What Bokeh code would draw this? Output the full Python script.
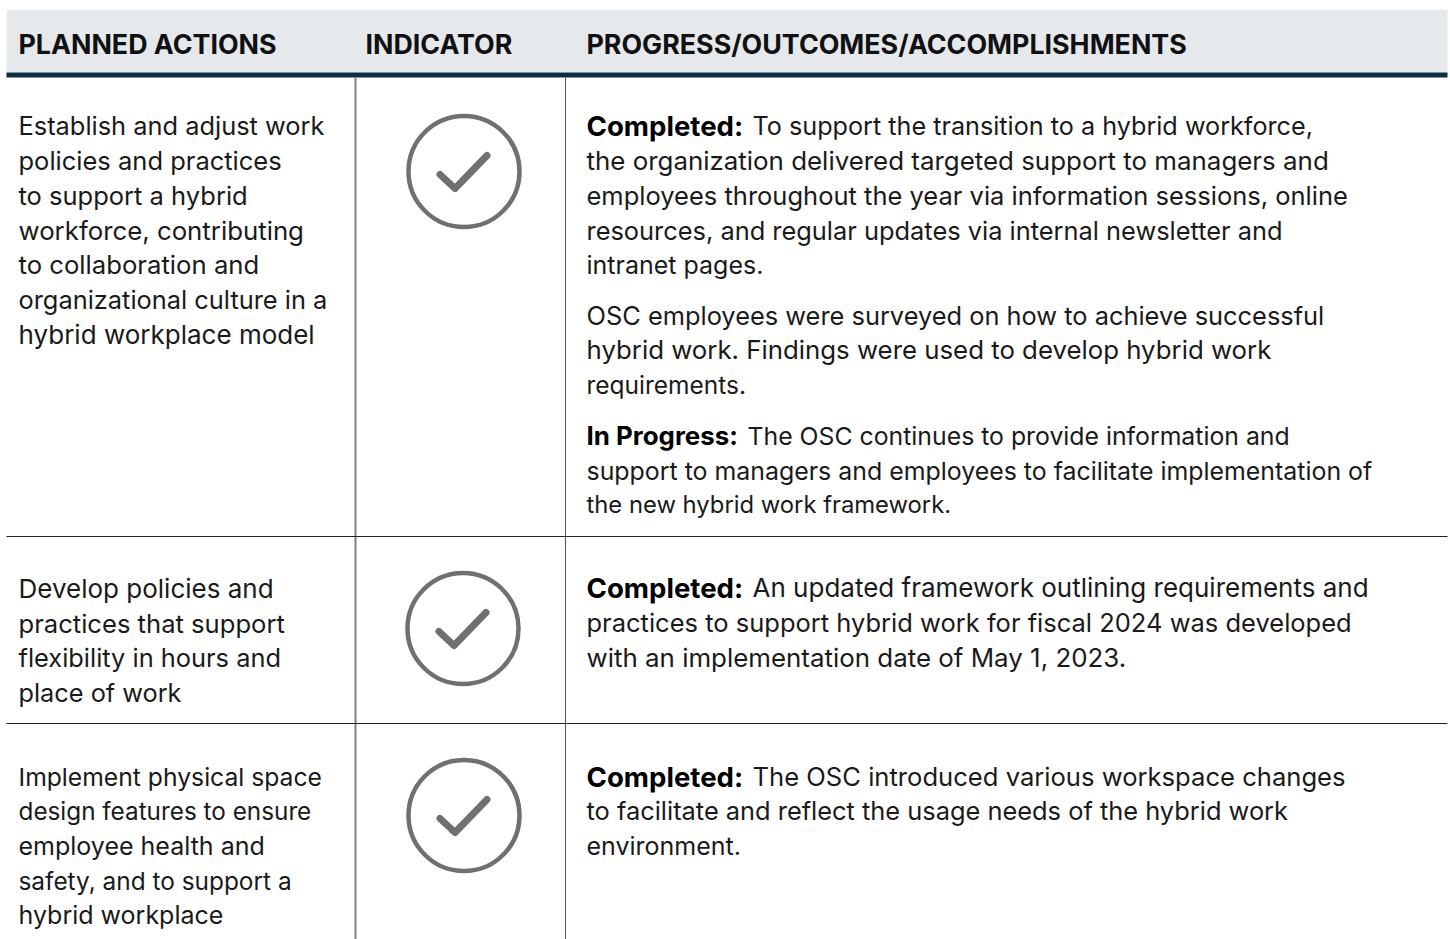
from bokeh.plotting import figure
from bokeh.embed import file_html
from bokeh.resources import INLINE
from bokeh.core.properties import value
from bokeh.models import Range1d

FONT = "Inter"
HFONT = "Inter"
HEAD = 26.8

headers = [("PLANNED ACTIONS", 18), ("INDICATOR", 365), ("PROGRESS/OUTCOMES/ACCOMPLISHMENTS", 586)]

left_lines = [
    ("Establish and adjust work", 125), ("policies and practices", 160), ("to support a hybrid", 195),
    ("workforce, contributing", 230), ("to collaboration and", 264), ("organizational culture in a", 299),
    ("hybrid workplace model", 334),
    ("Develop policies and", 588), ("practices that support", 623), ("flexibility in hours and", 657),
    ("place of work", 692),
    ("Implement physical space", 776), ("design features to ensure", 810), ("employee health and", 845),
    ("safety, and to support a", 880), ("hybrid workplace", 914),
]
left_sizes = [25.4, 25.5, 25.5, 25.8, 25.7, 25.4, 26, 26, 25.6, 25.4, 25.3, 24.7, 24.3, 25, 24.4, 25]

bold_lines = [("Completed:", 125), ("In Progress:", 435), ("Completed:", 587), ("Completed:", 776)]
bold_sizes = [27.6, 25.9, 27.6, 27.6]

right_lines = [
    ("To support the transition to a hybrid workforce,", 752, 125),
    ("the organization delivered targeted support to managers and", 586, 160),
    ("employees throughout the year via information sessions, online", 586, 195),
    ("resources, and regular updates via internal newsletter and", 586, 230),
    ("intranet pages.", 586, 264),
    ("OSC employees were surveyed on how to achieve successful", 586, 315),
    ("hybrid work. Findings were used to develop hybrid work", 586, 349),
    ("requirements.", 586, 384),
    ("The OSC continues to provide information and", 747, 435),
    ("support to managers and employees to facilitate implementation of", 586, 470),
    ("the new hybrid work framework.", 586, 504),
    ("An updated framework outlining requirements and", 752, 587),
    ("practices to support hybrid work for fiscal 2024 was developed", 586, 622),
    ("with an implementation date of May 1, 2023.", 586, 657),
    ("The OSC introduced various workspace changes", 752, 776),
    ("to facilitate and reflect the usage needs of the hybrid work", 586, 810),
    ("environment.", 586, 845),
]
right_sizes = [25.2, 25.9, 25.5, 25.4, 25, 25.4, 25.8, 24.5, 24.8, 24.9, 23.8, 26, 25.5, 25.9, 25.6, 25.4, 25]

icon_centres = [(463.5, 171), (462.5, 628), (463.5, 815)]
row_rules = [536, 723]

W, H = 1450, 939
p = figure(width=W, height=H, output_backend="svg", toolbar_location=None,
           x_range=Range1d(0, W), y_range=Range1d(H, 0), min_border=0,
           outline_line_color=None, background_fill_color="white", border_fill_color="white")
p.axis.visible = False
p.grid.visible = False

p.quad(left=6, right=1447, top=9, bottom=72, fill_color="#e6e9ec", line_color=None)
p.quad(left=6, right=1447, top=72, bottom=77, fill_color="#0a2f45", line_color=None)
p.segment(x0=[355], y0=[77], x1=[355], y1=[939], line_color="#808080", line_width=2)
p.segment(x0=[565], y0=[77], x1=[565], y1=[939], line_color="#555555", line_width=1)
p.segment(x0=[6]*2, y0=row_rules, x1=[1447]*2, y1=row_rules, line_color="#222222", line_width=1)

p.circle(x=[c[0] for c in icon_centres], y=[c[1] for c in icon_centres], radius=55.5,
         fill_color=None, line_color="#707070", line_width=4.5)
p.multi_line(xs=[[c[0]-24, c[0]-9, c[0]+23] for c in icon_centres],
             ys=[[c[1]+3, c[1]+17, c[1]-16] for c in icon_centres],
             line_color="#707070", line_width=7, line_cap="round", line_join="round")

p.text(x=[h[1] for h in headers], y=[43]*3, text=[h[0] for h in headers], text_font=value(HFONT),
       text_font_size=f"{HEAD}px", text_font_style="bold", text_baseline="middle", text_color="#111111")
p.text(x=[18]*len(left_lines), y=[l[1] for l in left_lines], text=[l[0] for l in left_lines],
       text_font=value(FONT), text_font_size=[f"{s}px" for s in left_sizes], text_baseline="middle", text_color="#1a1a1a")
p.text(x=[586]*len(bold_lines), y=[l[1] for l in bold_lines], text=[l[0] for l in bold_lines],
       text_font=value(FONT), text_font_size=[f"{s}px" for s in bold_sizes], text_font_style="bold", text_baseline="middle", text_color="#000000")
p.text(x=[l[1] for l in right_lines], y=[l[2] for l in right_lines], text=[l[0] for l in right_lines],
       text_font=value(FONT), text_font_size=[f"{s}px" for s in right_sizes], text_baseline="middle", text_color="#1a1a1a")

open("out.html", "w").write(file_html(p, INLINE))
